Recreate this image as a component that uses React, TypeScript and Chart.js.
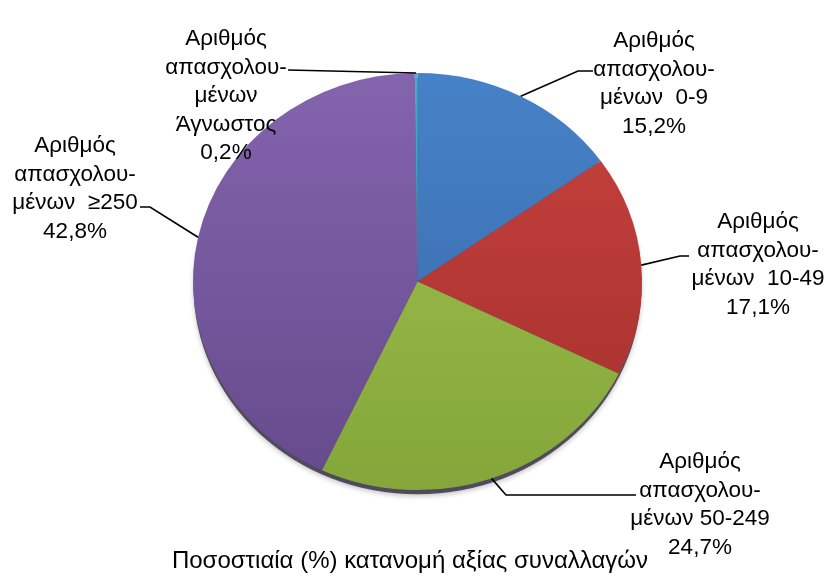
import React, { useEffect, useRef } from 'react';
import { Chart, registerables } from 'chart.js';

Chart.register(...registerables);

// ---- data ----
const categories = ['0-9', '10-49', '50-249', '≥250', 'Άγνωστος'];
const shares = [15.2, 17.1, 24.7, 42.8, 0.2];
const labelHead = ['Αριθμός', 'απασχολου-'];
const categoryLines = [['μένων  0-9'], ['μένων  10-49'], ['μένων 50-249'], ['μένων  ≥250'], ['μένων', 'Άγνωστος']];
const chartTitle = 'Ποσοστιαία (%) κατανομή αξίας συναλλαγών';

// ---- styles / layout ----
const lightColors = ['#4682c8', '#c8423e', '#9fc44e', '#8464ad', '#4bacc6'];
const darkColors = ['#3866a5', '#a32f2c', '#84a63a', '#654a8c', '#3a8ca3'];
const FONT = '"Liberation Sans", Arial, sans-serif';
const FONT_SIZE = 22.5;
const TITLE_SIZE = 24;
const LINE_H = 28.5;
const Y_SCALE = 0.929;
// label layout: centre x, baseline of first line, leader end point, elbow offset
const labelLayout = [
  { cx: 654, by: 47, end: [593, 71], elbow: -15 },
  { cx: 758, by: 228, end: [689, 256], elbow: -9 },
  { cx: 700, by: 468, end: [636, 495], elbow: -130 },
  { cx: 75, by: 152, end: [140, 207], elbow: 10 },
  { cx: 226, by: 45, end: [288, 70], elbow: 0 },
];

const fmt = (v: number) => v.toFixed(1).replace('.', ',') + '%';

const App = () => {
  const ref = useRef<HTMLCanvasElement>(null);
  useEffect(() => {
    const canvas = ref.current!;

    const squashPlugin = {
      id: 'squash',
      beforeDatasetsDraw(chart: any) {
        const meta = chart.getDatasetMeta(0);
        const arc = meta.data[0];
        if (!arc) return;
        const { x, y, outerRadius } = arc.getProps(['x', 'y', 'outerRadius'], true);
        const ctx = chart.ctx;
        ctx.save();
        ctx.translate(x, y);
        ctx.scale(1, Y_SCALE);
        ctx.translate(-x, -y);
        // rim / shadow under the pie
        ctx.save();
        ctx.beginPath();
        ctx.arc(x, y + 5, outerRadius - 0.5, 0, Math.PI * 2);
        ctx.fillStyle = 'rgba(40,30,55,0.75)';
        ctx.shadowColor = 'rgba(0,0,0,0.3)';
        ctx.shadowBlur = 5;
        ctx.shadowOffsetY = 2;
        ctx.fill();
        ctx.restore();
      },
      afterDatasetsDraw(chart: any) {
        chart.ctx.restore();
      },
    };

    const labelPlugin = {
      id: 'labels',
      afterDraw(chart: any) {
        const ctx = chart.ctx;
        const meta = chart.getDatasetMeta(0);
        ctx.save();
        meta.data.forEach((el: any, i: number) => {
          const { x, y, startAngle, endAngle, outerRadius } = el.getProps(
            ['x', 'y', 'startAngle', 'endAngle', 'outerRadius'],
            true
          );
          const mid = (startAngle + endAngle) / 2;
          const px = x + outerRadius * Math.cos(mid);
          const py = y + outerRadius * Math.sin(mid) * Y_SCALE;
          const L = labelLayout[i];
          ctx.beginPath();
          ctx.strokeStyle = '#000';
          ctx.lineWidth = 1.6;
          ctx.moveTo(px, py);
          if (L.elbow !== 0) ctx.lineTo(L.end[0] + L.elbow, L.end[1]);
          ctx.lineTo(L.end[0], L.end[1]);
          ctx.stroke();

          const lines = [...labelHead, ...categoryLines[i], fmt(shares[i])];
          ctx.fillStyle = '#000';
          ctx.font = `${FONT_SIZE}px ${FONT}`;
          ctx.textAlign = 'center';
          ctx.textBaseline = 'alphabetic';
          lines.forEach((t, k) => ctx.fillText(t, L.cx, L.by + k * LINE_H));
        });
        ctx.font = `${TITLE_SIZE}px ${FONT}`;
        ctx.textAlign = 'center';
        ctx.fillText(chartTitle, 410, 568);
        ctx.restore();
      },
    };

    const chart = new Chart(canvas, {
      type: 'pie',
      data: {
        labels: categories,
        datasets: [
          {
            data: shares,
            borderWidth: 0,
            backgroundColor: (c: any) => {
              const area = c.chart.chartArea;
              const i = c.dataIndex;
              if (!area) return lightColors[i];
              const g = c.chart.ctx.createLinearGradient(0, area.top, 0, area.bottom);
              g.addColorStop(0, lightColors[i]);
              g.addColorStop(1, darkColors[i]);
              return g;
            },
          },
        ],
      },
      options: {
        responsive: false,
        animation: false,
        events: [],
        layout: { padding: { left: 193, right: 183, top: 57, bottom: 71 } },
        plugins: {
          legend: { display: false },
          tooltip: { enabled: false },
          title: { display: false },
        },
      },
      plugins: [squashPlugin, labelPlugin],
    } as any);
    return () => chart.destroy();
  }, []);

  return (
    <div style={{ position: 'absolute', left: 0, top: 0, width: 825, height: 577, background: '#fff' }}>
      <canvas ref={ref} width={825} height={577} style={{ display: 'block' }} />
    </div>
  );
};

export default App;
